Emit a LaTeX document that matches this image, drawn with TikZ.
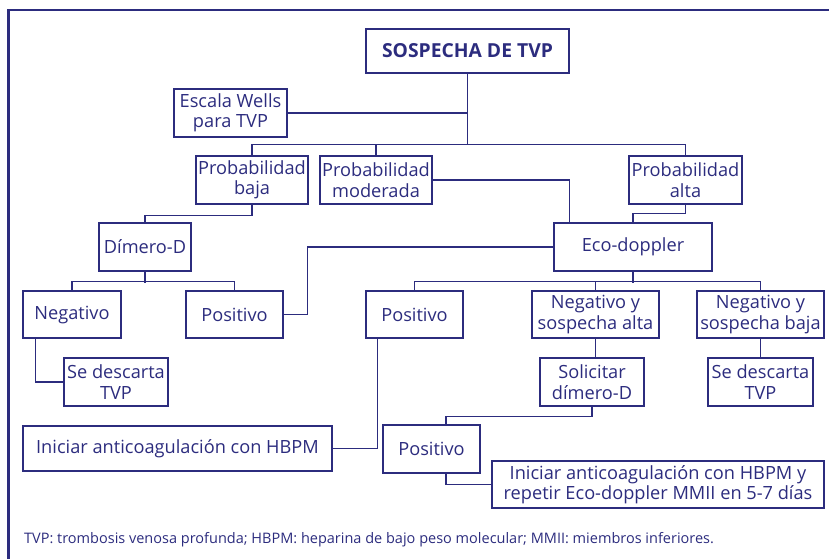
\documentclass[tikz,border=0pt]{standalone}
\usepackage{fontspec}
\setmainfont{Open Sans}
\usetikzlibrary{calc}
\definecolor{navy}{RGB}{44,44,126}
\tikzset{
  box/.style={draw=navy, line width=1.1pt, text=navy, inner sep=0pt, align=center,
    font=\fontsize{18.2}{20.5}\selectfont},
  conn/.style={draw=navy, line width=1.1pt},
  frameline/.style={draw=navy, line width=2.6pt}
}
\begin{document}
\begin{tikzpicture}[x=1pt,y=-1pt]
\useasboundingbox (0,0) rectangle (829,558);
\draw[frameline] (8.3,560) |- (832,10);
% nodes
\node[box, minimum width=203pt, minimum height=44pt, font=\bfseries\fontsize{19.3}{21}\selectfont] (sos) at (467.5,51) {SOSPECHA DE TVP};
\node[box, minimum width=113pt, minimum height=48pt] (wells) at (230.5,113) {Escala Wells\\para TVP};
\node[box, minimum width=112pt, minimum height=48pt] (pbaja) at (252,180) {Probabilidad\\baja};
\node[box, minimum width=112pt, minimum height=48pt] (pmod) at (376,180) {Probabilidad\\moderada};
\node[box, minimum width=113pt, minimum height=48pt] (palta) at (685.5,180) {Probabilidad\\alta};
\node[box, minimum width=158pt, minimum height=48pt] (eco) at (633,247) {Eco-doppler};
\node[box, minimum width=92pt, minimum height=48pt] (dimero) at (145,247) {Dímero-D};
\node[box, minimum width=98pt, minimum height=47pt] (neg) at (72,314.5) {Negativo};
\node[box, minimum width=97pt, minimum height=47pt] (pos1) at (234.5,314.5) {Positivo};
\node[box, minimum width=104pt, minimum height=48pt] (descl) at (116,382) {Se descarta\\TVP};
\node[box, minimum width=309pt, minimum height=45pt] (inic) at (177.5,448.5) {Iniciar anticoagulación con HBPM};
\node[box, minimum width=97pt, minimum height=47pt] (pos2) at (414.5,314.5) {Positivo};
\node[box, minimum width=127pt, minimum height=47pt] (negalta) at (595.5,314.5) {Negativo y\\sospecha alta};
\node[box, minimum width=127pt, minimum height=47pt] (negbaja) at (760.5,314.5) {Negativo y\\sospecha baja};
\node[box, minimum width=104pt, minimum height=48pt] (solic) at (592,382) {Solicitar\\dímero-D};
\node[box, minimum width=105pt, minimum height=48pt] (descr) at (760.5,382) {Se descarta\\TVP};
\node[box, minimum width=97pt, minimum height=48pt] (pos3) at (431.5,449) {Positivo};
\node[box, minimum width=332pt, minimum height=47pt] (final) at (658,484.5) {Iniciar anticoagulación con HBPM y\\repetir Eco-doppler MMII en 5-7 días};
\node[text=navy, anchor=base west, inner sep=0pt, font=\fontsize{14.5}{16}\selectfont] (foot) at (24,543) {TVP: trombosis venosa profunda; HBPM: heparina de bajo peso molecular; MMII: miembros inferiores.};
% connectors
\draw[conn] (sos.south) -- ($(sos.south |- pbaja.north)+(0,-11)$);
\draw[conn] (wells.east) -- (wells.east -| sos.south);
\draw[conn] (pbaja.north) -- ++(0,-11) -| (palta.north);
\draw[conn] (pmod.north) -- ++(0,-11);
\draw[conn] (pmod.east) -| ($(eco.north west)+(16,0)$);
\draw[conn] (palta.south) -- ++(0,9) -| (eco.north);
\draw[conn] (pbaja.south) -- ++(0,11) -| (dimero.north);
\draw[conn] (eco.west) -| ($(pos1.east)+(24,0)$) -- (pos1.east);
\draw[conn] (dimero.south) -- ++(0,11);
\draw[conn] (neg.north) -- ++(0,-9) -| (pos1.north);
\draw[conn] ($(neg.south west)+(13,0)$) |- (descl.west);
\draw[conn] (inic.east) -| ($(pos2.south west)+(12,0)$);
\draw[conn] (eco.south) -- ++(0,11);
\draw[conn] (pos2.north) -- ++(0,-9) -| (negbaja.north);
\draw[conn] (negalta.north) -- ++(0,-9);
\draw[conn] (negalta.south) -- (negalta.south |- solic.north);
\draw[conn] (negbaja.south) -- (descr.north);
\draw[conn] (solic.south) -- ++(0,10) -| ($(pos3.north)+(14.5,0)$);
\draw[conn] ($(pos3.south)+(14.5,0)$) |- (final.west);
\end{tikzpicture}
\end{document}
